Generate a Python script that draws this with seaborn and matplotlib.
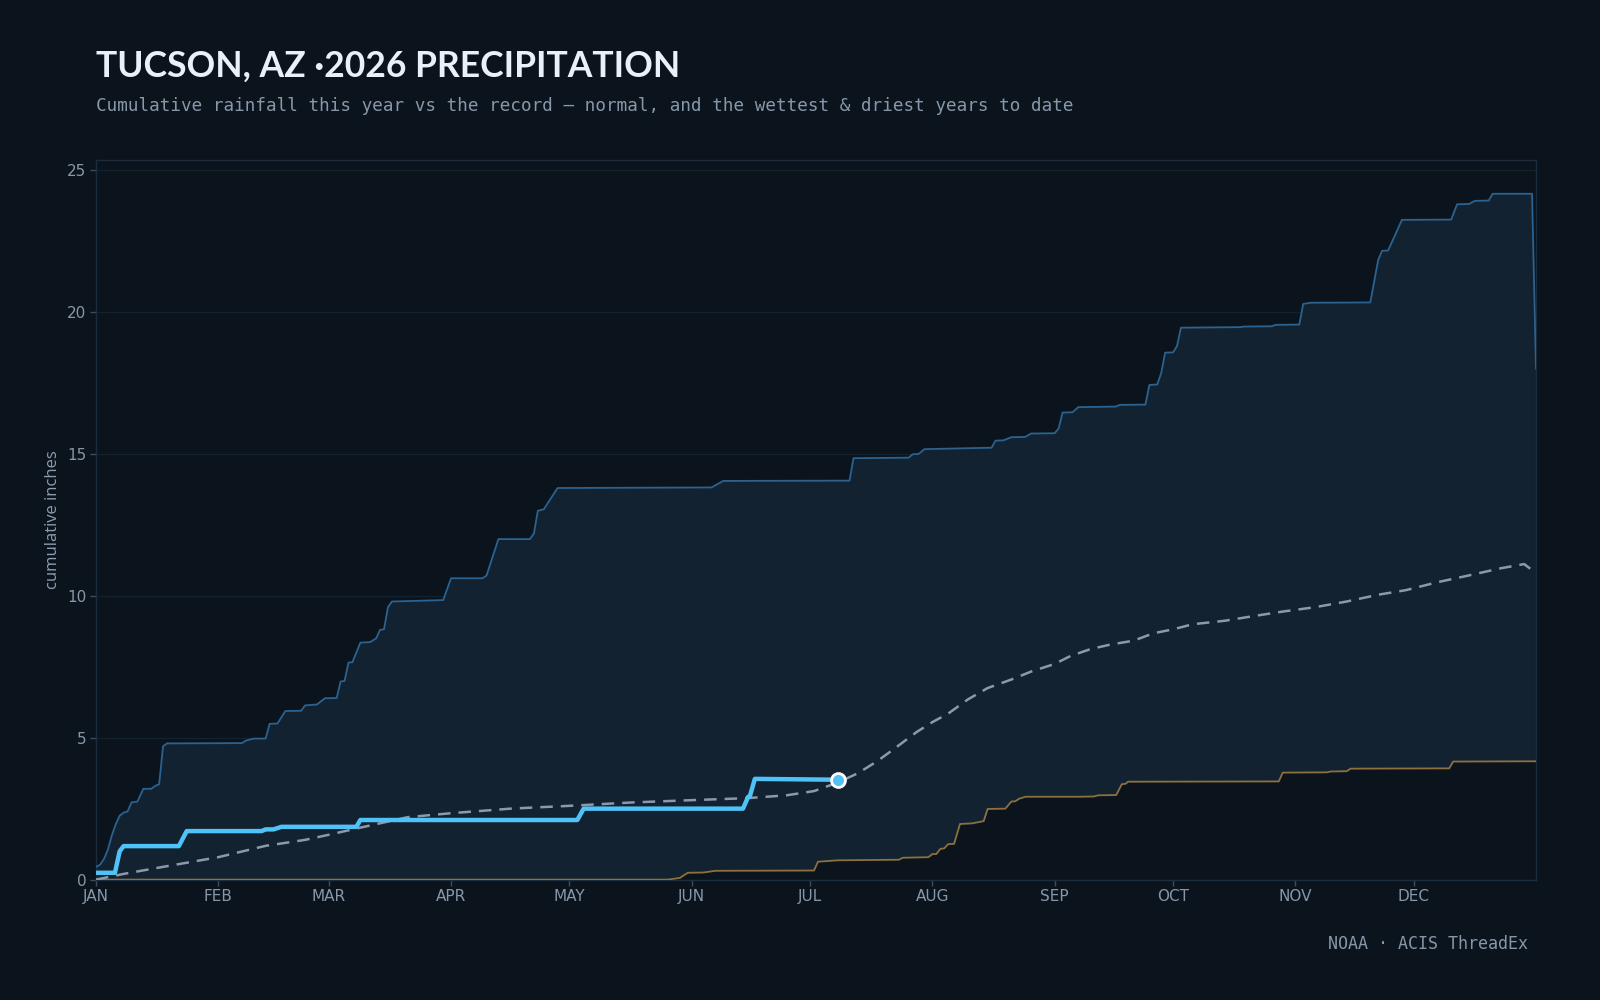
import numpy as np
import matplotlib
matplotlib.use("Agg")
import matplotlib.pyplot as plt
import seaborn as sns

# ---- data (day of year, cumulative inches) ----
month_days = [0, 31, 59, 90, 120, 151, 181, 212, 243, 273, 304, 334]
month_labels = ['JAN', 'FEB', 'MAR', 'APR', 'MAY', 'JUN',
                'JUL', 'AUG', 'SEP', 'OCT', 'NOV', 'DEC']

wettest_day = [0, 1, 2, 3, 4, 5, 6, 7, 8, 9, 10.5, 12, 14, 15, 16, 17, 18,
               37, 38, 40, 43, 44, 46, 48, 52, 53, 56, 58, 61, 62, 63, 64, 65,
               67, 69.5, 71, 72, 73, 74, 75, 88, 90, 98, 99, 102, 110, 111, 112,
               113.5, 117, 156, 159, 191, 192, 206, 207, 208.5, 210, 227, 228,
               230, 232, 235.5, 237, 243, 244, 245, 247.5, 249, 258.5, 259.5,
               266, 267, 269, 270, 271, 273, 274, 275, 290, 291, 298, 299, 305,
               306, 308, 323, 325, 326, 327.5, 329.5, 331, 343.5, 345, 348,
               349.5, 353, 354, 364, 365]
wettest_in = [0.45, 0.52, 0.72, 1.05, 1.55, 1.95, 2.25, 2.36, 2.40, 2.72, 2.75,
              3.20, 3.20, 3.30, 3.36, 4.70, 4.80,
              4.81, 4.90, 4.97, 4.97, 5.49, 5.50, 5.94, 5.95, 6.14, 6.17, 6.39,
              6.40, 6.98, 7.00, 7.65, 7.66,
              8.35, 8.37, 8.50, 8.80, 8.82, 9.60, 9.80, 9.85, 10.62, 10.62,
              10.72, 12.00, 12.00, 12.20, 13.00,
              13.05, 13.80, 13.82, 14.05, 14.06, 14.85, 14.87, 14.99, 15.00,
              15.17, 15.22, 15.47,
              15.48, 15.59, 15.60, 15.72, 15.73, 15.90, 16.46, 16.47, 16.65,
              16.67, 16.73,
              16.74, 17.43, 17.45, 17.85, 18.57, 18.58, 18.80, 19.45, 19.47,
              19.49, 19.50, 19.55, 19.56,
              20.29, 20.33, 20.34, 21.84, 22.16, 22.17, 22.78, 23.25, 23.26,
              23.80, 23.81,
              23.92, 23.93, 24.17, 24.17, 18.00]

driest_day = [0, 145, 148, 150, 154, 157, 182, 183, 188, 203.5, 204.5, 211,
              212, 213, 214, 215, 216, 217.5, 219, 222, 225, 226, 230.5, 232,
              233, 234, 235.6, 249, 253, 254, 258.6, 260, 261, 261.6, 299.8,
              300.8, 312, 313, 317, 318, 343, 344, 365]
driest_in = [0.00, 0.00, 0.06, 0.24, 0.25, 0.31, 0.32, 0.63, 0.68, 0.70, 0.77,
             0.79, 0.90, 0.90, 1.08, 1.10, 1.25, 1.26, 1.96, 1.98, 2.06, 2.49,
             2.50, 2.75, 2.76, 2.85, 2.92, 2.92, 2.93, 2.97, 2.98, 3.36, 3.38,
             3.45, 3.46, 3.77, 3.78, 3.81, 3.82, 3.91, 3.92, 4.16, 4.17]

normal_day = [0, 7, 15, 31, 43, 53, 59, 66, 79, 90, 105, 120, 136, 151, 165,
              175, 182, 188, 193, 198, 203, 208, 212, 216, 221, 226, 232, 237,
              243, 247, 252, 257, 263, 268, 273, 278, 286, 294, 301, 309, 317,
              325, 332, 340, 348, 356, 362, 365]
normal_in = [0.00, 0.20, 0.40, 0.79, 1.19, 1.40, 1.58, 1.80, 2.20, 2.34, 2.50,
             2.60, 2.72, 2.80, 2.87, 2.97, 3.12, 3.42, 3.74, 4.17, 4.68, 5.20,
             5.55, 5.85, 6.35, 6.75, 7.05, 7.33, 7.60, 7.88, 8.12, 8.28, 8.42,
             8.68, 8.82, 9.00, 9.12, 9.30, 9.45, 9.60, 9.80, 10.04, 10.20,
             10.48, 10.72, 10.97, 11.12, 10.80]

this_year_day = [0, 4.8, 6, 7, 21, 23, 42, 43, 45, 47, 66, 67, 122, 123.6,
                 164, 165.3, 165.7, 167, 188]
this_year_in = [0.24, 0.24, 1.00, 1.18, 1.18, 1.71, 1.71, 1.77, 1.77, 1.86,
                1.86, 2.10, 2.10, 2.50, 2.50, 2.92, 2.92, 3.55, 3.52]

# ---- style ----
BG = '#0b141d'
BAND = '#122231'
SPINE = '#1b2d3d'
MUTED = '#8797aa'

sns.set_theme(style='dark', rc={
    'figure.facecolor': BG, 'axes.facecolor': BG, 'axes.edgecolor': SPINE,
    'grid.color': '#13222f', 'xtick.color': MUTED, 'ytick.color': MUTED,
    'axes.labelcolor': MUTED, 'text.color': MUTED,
})
plt.rcParams['font.family'] = ['DejaVu Sans']

fig = plt.figure(figsize=(16, 10), dpi=100)
ax = fig.add_axes([0.06, 0.1204, 0.90, 0.7196])

# band between driest and wettest
ax.fill(np.r_[wettest_day, driest_day[::-1]], np.r_[wettest_in, driest_in[::-1]],
        color=BAND, lw=0, zorder=1)

sns.lineplot(x=wettest_day, y=wettest_in, ax=ax, color='#2b6290', lw=1.3, zorder=3)
sns.lineplot(x=driest_day, y=driest_in, ax=ax, color='#8c7040', lw=1.3, zorder=3)
sns.lineplot(x=normal_day, y=normal_in, ax=ax, color='#8a9aab', lw=1.8,
             dashes=False, zorder=4).lines[-1].set_dashes([5, 3.2])
sns.lineplot(x=this_year_day, y=this_year_in, ax=ax, color='#4fc3f7', lw=3.2,
             zorder=5)
ax.plot([this_year_day[-1]], [this_year_in[-1]], 'o', ms=10, mfc='#4fc3f7',
        mec='white', mew=2, zorder=6)

ax.set_xlim(0, 365)
ax.set_ylim(0, 25.36)
ax.set_xticks(month_days)
ax.set_xticklabels(month_labels)
ax.set_yticks([0, 5, 10, 15, 20, 25])
ax.tick_params(axis='both', labelsize=11, length=4, width=1, color='#3a4c5e',
               bottom=True, left=True, pad=3)
ax.grid(axis='y', color='#13222f', lw=0.9)
ax.grid(axis='x', visible=False)
ax.set_axisbelow(True)
for s in ax.spines.values():
    s.set_color(SPINE)
    s.set_linewidth(1)
ax.set_ylabel('cumulative inches', fontsize=12, family=['Open Sans', 'DejaVu Sans'],
              labelpad=4, color='#8d9db0')
ax.set_xlabel('')

fig.text(0.06, 1 - 76.5 / 1000, 'TUCSON, AZ ·2026 PRECIPITATION', fontsize=25.6,
         weight='bold', color='#e8f0f8', family=['Lato', 'DejaVu Sans'],
         va='baseline')
fig.text(0.06, 1 - 106 / 1000,
         'Cumulative rainfall this year vs the record — normal, and the wettest & driest years to date',
         fontsize=12.7, color=MUTED, family=['DejaVu Sans Mono'], va='center')
fig.text(1527.5 / 1600, 1 - 944 / 1000, 'NOAA · ACIS ThreadEx', fontsize=12,
         color=MUTED, family=['DejaVu Sans Mono'], ha='right', va='center')

fig.savefig('out.png', dpi=100, facecolor=BG)
